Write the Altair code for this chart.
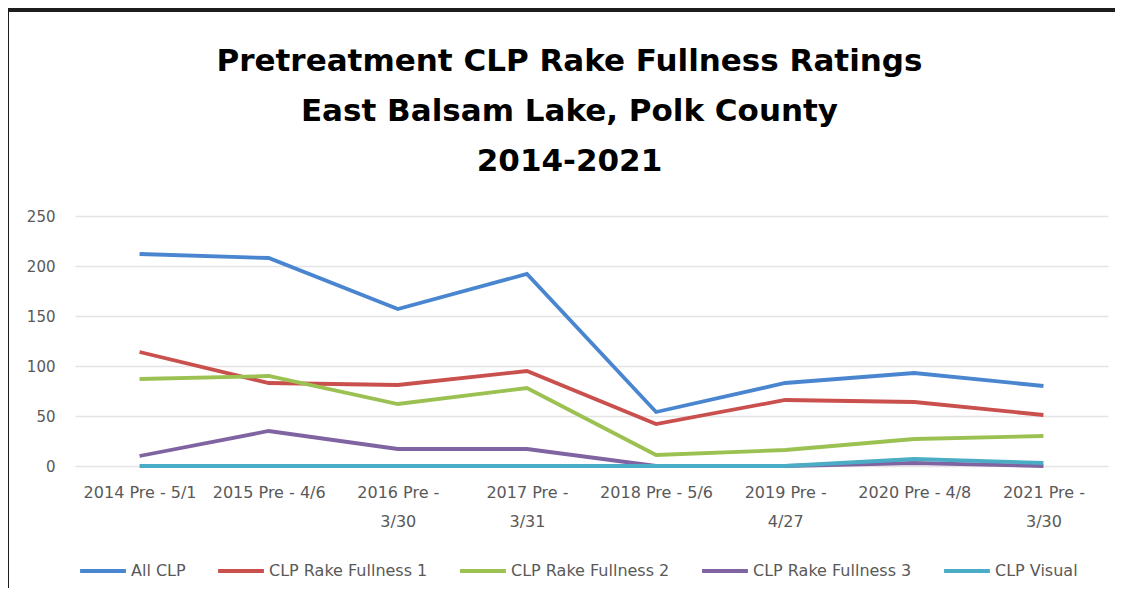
import altair as alt
import pandas as pd

categories = ["2014 Pre - 5/1", "2015 Pre - 4/6", "2016 Pre - 3/30", "2017 Pre - 3/31",
              "2018 Pre - 5/6", "2019 Pre - 4/27", "2020 Pre - 4/8", "2021 Pre - 3/30"]
series_names = ["All CLP", "CLP Rake Fullness 1", "CLP Rake Fullness 2",
                "CLP Rake Fullness 3", "CLP Visual"]
all_clp = [212, 208, 157, 192, 54, 83, 93, 80]
rake1 = [114, 83, 81, 95, 42, 66, 64, 51]
rake2 = [87, 90, 62, 78, 11, 16, 27, 30]
rake3 = [10, 35, 17, 17, 0, 0, 3, 0]
visual = [0, 0, 0, 0, 0, 0, 7, 3]
colors = ["#4A86CF", "#C9504D", "#9BC152", "#8064A2", "#4BACC6"]

rows = []
for si, (name, vals) in enumerate(zip(series_names, [all_clp, rake1, rake2, rake3, visual])):
    for ci, (cat, v) in enumerate(zip(categories, vals)):
        rows.append({"Category": cat, "Series": name, "Value": v, "s": si, "c": ci})
df = pd.DataFrame(rows)

wrap_expr = ("test(/^(2016|2017|2019|2021)/, datum.value) ? "
             "[slice(datum.value, 0, 10), slice(datum.value, 11)] : datum.value")

FONT = "DejaVu Sans"

lines = alt.Chart(df).mark_line(strokeWidth=3.8, strokeCap="butt", strokeJoin="miter").encode(
    x=alt.X("Category:N", sort=categories, title=None,
            scale=alt.Scale(paddingInner=0, paddingOuter=0.5),
            axis=alt.Axis(labelAngle=0, labelExpr=wrap_expr, labelPadding=26,
                          labelLineHeight=29, labelFontSize=16, labelColor="#595959",
                          labelFont=FONT, domain=False, ticks=False, grid=False,
                          labelBaseline="middle")),
    y=alt.Y("Value:Q", title=None,
            scale=alt.Scale(domain=[0, 250]),
            axis=alt.Axis(values=[0, 50, 100, 150, 200, 250], labelFontSize=15,
                          labelColor="#595959", labelFont=FONT, labelPadding=20,
                          domain=False, ticks=False, gridColor="#E4E4E4", gridWidth=1.5)),
    color=alt.Color("Series:N", sort=series_names,
                    scale=alt.Scale(domain=series_names, range=colors),
                    legend=alt.Legend(title=None, orient="none", direction="horizontal",
                                      legendX=3, legendY=330, symbolType="stroke",
                                      symbolSize=2100, symbolStrokeWidth=3.8,
                                      labelFontSize=16, labelColor="#595959",
                                      labelFont=FONT, columnPadding=24,
                                      labelOffset=3)),
    order=alt.Order("s:Q"),
    detail="s:N",
)

# decorative frame (top and left edges, as in the reference)
frame_top = alt.Chart(df).mark_rule(color="#1E1E1E", strokeWidth=2.5).encode(
    x=alt.value(-69), x2=alt.value(1050), y=alt.value(-206))
frame_left = alt.Chart(df).mark_rule(color="#1E1E1E", strokeWidth=2.5).encode(
    x=alt.value(-68), y=alt.value(-207), y2=alt.value(380))

chart = alt.layer(lines, frame_top, frame_left).properties(
    width=1033, height=250,
    autosize=alt.AutoSizeParams(type="none"),
    padding={"left": 67, "top": 208, "right": 7, "bottom": 122},
    title=alt.TitleParams(
        text=["Pretreatment CLP Rake Fullness Ratings", "East Balsam Lake, Polk County", "2014-2021"],
        font=FONT, fontSize=31, fontWeight="bold", color="#000000",
        lineHeight=50, anchor="middle", offset=-201, dx=-22, baseline="bottom"),
).configure_view(stroke=None)

chart.save("out.html", embed_options={"renderer": "svg", "actions": False})
